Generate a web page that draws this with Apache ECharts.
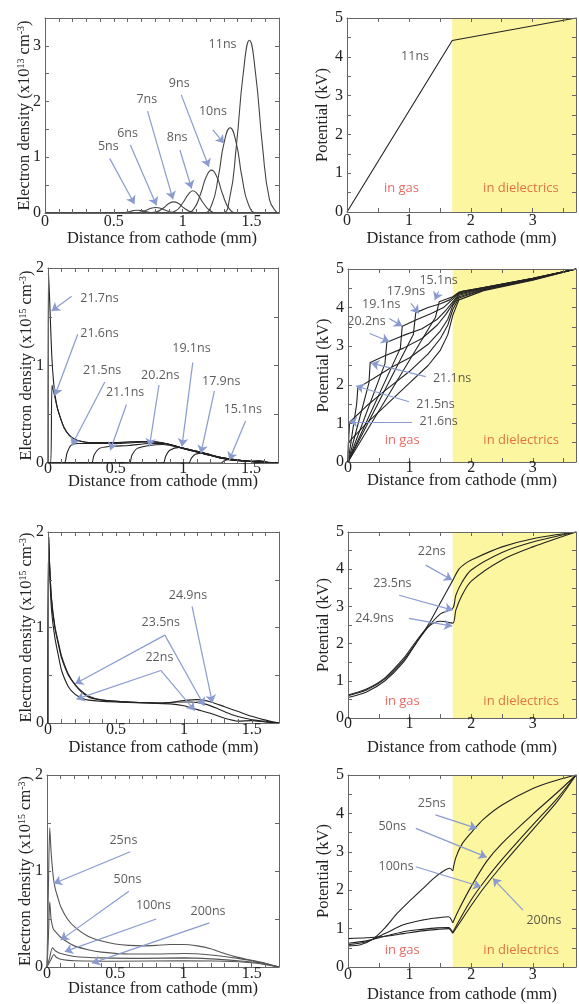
<!DOCTYPE html>
<html>
<head>
<meta charset="utf-8">
<script src="https://cdn.jsdelivr.net/npm/echarts@6/dist/echarts.min.js"></script>
<style>
html, body { margin: 0; padding: 0; background: #fff; }
#chart { width: 579px; height: 1004px; }
</style>
</head>
<body>
<div id="chart"></div>
<script>
// ---- row 1, left: electron density 5..11 ns (x1e13 cm^-3)
const dens5ns = [[0,0],[0.5,0],[0.56,0.005],[0.61,0.022],[0.64,0.042],[0.67,0.05],[0.7,0.042],[0.74,0.02],[0.79,0.005],[0.85,0],[1.7,0]];
const dens6ns = [[0,0],[0.6,0],[0.68,0.01],[0.73,0.045],[0.77,0.085],[0.805,0.1],[0.84,0.085],[0.88,0.045],[0.93,0.01],[1.0,0],[1.7,0]];
const dens7ns = [[0,0],[0.75,0],[0.81,0.02],[0.86,0.09],[0.9,0.17],[0.935,0.2],[0.97,0.17],[1.01,0.09],[1.06,0.02],[1.12,0],[1.7,0]];
const dens8ns = [[0,0],[0.88,0],[0.95,0.04],[1.0,0.18],[1.04,0.33],[1.075,0.4],[1.11,0.33],[1.15,0.18],[1.2,0.04],[1.26,0],[1.7,0]];
const dens9ns = [[0,0],[1.02,0],[1.08,0.07],[1.13,0.34],[1.17,0.64],[1.21,0.77],[1.25,0.64],[1.29,0.34],[1.34,0.07],[1.4,0],[1.7,0]];
const dens10ns = [[0,0],[1.15,0],[1.21,0.14],[1.26,0.66],[1.3,1.25],[1.345,1.53],[1.39,1.25],[1.43,0.66],[1.48,0.14],[1.54,0],[1.7,0]];
const dens11ns = [[0,0],[1.28,0],[1.34,0.25],[1.39,1.2],[1.44,2.5],[1.485,3.1],[1.53,2.5],[1.58,1.2],[1.63,0.25],[1.68,0.02],[1.7,0]];
const notesA = [[1.29,3.02,'11ns'],[1.22,1.82,'10ns'],[0.975,2.33,'9ns'],[0.96,1.35,'8ns'],[0.74,2.03,'7ns'],[0.6,1.43,'6ns'],[0.46,1.19,'5ns']];
const arrowsA = [[1.22,1.49,1.30,1.25],[0.99,2.12,1.19,0.83],[0.98,1.13,1.065,0.44],[0.745,1.83,0.93,0.245],[0.62,1.22,0.81,0.14],[0.47,0.98,0.65,0.16]];

// ---- row 1, right: potential at 11 ns (kV)
const pot11ns = [[0,0],[1.7,4.42],[3.7,5]];
const notesB = [[1.1,4.0,'11ns']];

// ---- row 2, left: electron density 15.1..21.7 ns (x1e15 cm^-3)
const dens15_1 = [[0,0],[1.28,0],[1.3,0.02],[1.33,0.035],[1.4,0.03],[1.5,0.02],[1.56,0.025],[1.62,0.01],[1.7,0]];
const dens17_9 = [[0,0],[1.04,0],[1.06,0.05],[1.09,0.09],[1.15,0.1],[1.25,0.06],[1.35,0.035],[1.45,0.02],[1.55,0.01],[1.7,0]];
const dens19_1 = [[0,0],[0.85,0],[0.87,0.07],[0.9,0.13],[0.97,0.16],[1.05,0.13],[1.15,0.095],[1.25,0.06],[1.35,0.035],[1.5,0.015],[1.7,0]];
const dens20_2 = [[0,0],[0.6,0],[0.62,0.08],[0.66,0.15],[0.75,0.18],[0.85,0.19],[0.95,0.165],[1.05,0.13],[1.15,0.095],[1.25,0.06],[1.35,0.035],[1.5,0.015],[1.7,0]];
const dens21_1 = [[0,0],[0.32,0],[0.34,0.08],[0.38,0.15],[0.45,0.17],[0.6,0.18],[0.75,0.2],[0.85,0.2],[0.95,0.17],[1.05,0.13],[1.15,0.095],[1.25,0.06],[1.35,0.035],[1.5,0.015],[1.7,0]];
const dens21_5 = [[0,0],[0.12,0],[0.14,0.1],[0.17,0.18],[0.22,0.2],[0.35,0.2],[0.5,0.2],[0.65,0.21],[0.8,0.215],[0.9,0.19],[1.0,0.15],[1.1,0.12],[1.2,0.085],[1.3,0.05],[1.4,0.03],[1.5,0.015],[1.6,0.005],[1.7,0]];
const dens21_6 = [[0,0],[0.02,0],[0.03,0.8],[0.05,0.68],[0.07,0.56],[0.09,0.47],[0.12,0.36],[0.16,0.28],[0.2,0.24],[0.25,0.22],[0.3,0.21],[0.5,0.21],[0.7,0.22],[0.8,0.215],[0.9,0.19],[1.0,0.15],[1.1,0.12],[1.2,0.085],[1.3,0.05],[1.4,0.03],[1.5,0.015],[1.6,0.005],[1.7,0]];
const dens21_7 = [[0,0],[0.003,1.95],[0.01,1.75],[0.018,1.45],[0.028,1.1],[0.04,0.85],[0.055,0.67],[0.07,0.56],[0.09,0.47],[0.12,0.36],[0.16,0.28],[0.2,0.24],[0.25,0.22],[0.3,0.21],[0.5,0.21],[0.7,0.22],[0.8,0.215],[0.9,0.19],[1.0,0.15],[1.1,0.12],[1.2,0.085],[1.3,0.05],[1.4,0.03],[1.5,0.015],[1.6,0.005],[1.7,0]];
const notesC = [[0.38,1.69,'21.7ns'],[0.38,1.33,'21.6ns'],[0.4,0.95,'21.5ns'],[0.57,0.72,'21.1ns'],[0.83,0.9,'20.2ns'],[1.06,1.17,'19.1ns'],[1.28,0.84,'17.9ns'],[1.44,0.55,'15.1ns']];
const arrowsC = [[0.175,1.71,0.027,1.56],[0.22,1.32,0.05,0.69],[0.42,0.83,0.175,0.18],[0.58,0.6,0.46,0.13],[0.82,0.8,0.75,0.17],[1.07,1.03,0.99,0.17],[1.23,0.74,1.13,0.1],[1.46,0.43,1.34,0.03]];

// ---- row 2, right: potential 15.1..21.7 ns
const pot15_1 = [[0,0],[1.42,3.75],[1.48,4.15],[1.6,4.22],[1.7,4.28],[1.8,4.4],[2.2,4.52],[3.0,4.76],[3.7,5]];
const pot17_9 = [[0,0],[1.06,3.3],[1.1,3.87],[1.3,4.0],[1.5,4.1],[1.65,4.2],[1.75,4.33],[1.85,4.42],[2.2,4.52],[3.0,4.76],[3.7,5]];
const pot19_1 = [[0,0],[0.85,2.95],[0.88,3.52],[1.1,3.68],[1.35,3.85],[1.55,4.0],[1.7,4.22],[1.8,4.38],[2.2,4.51],[3.0,4.75],[3.7,5]];
const pot20_2 = [[0,0],[0.6,2.55],[0.63,3.1],[0.9,3.28],[1.2,3.45],[1.45,3.7],[1.6,3.95],[1.7,4.15],[1.8,4.35],[2.2,4.5],[3.0,4.75],[3.7,5]];
const pot21_1 = [[0,0],[0.34,2.05],[0.36,2.58],[0.6,2.75],[0.9,2.95],[1.2,3.2],[1.45,3.55],[1.6,3.85],[1.7,4.1],[1.8,4.32],[2.2,4.49],[3.0,4.74],[3.7,5]];
const pot21_5 = [[0,0],[0.14,1.5],[0.16,1.92],[0.4,2.15],[0.7,2.45],[1.0,2.7],[1.3,3.05],[1.5,3.4],[1.62,3.7],[1.7,4.05],[1.8,4.28],[2.2,4.47],[3.0,4.73],[3.7,5]];
const pot21_6 = [[0,0],[0.012,0.6],[0.025,1.03],[0.3,1.45],[0.6,1.85],[1.0,2.35],[1.3,2.8],[1.5,3.2],[1.62,3.55],[1.7,3.95],[1.8,4.25],[2.2,4.46],[3.0,4.72],[3.7,5]];
const pot21_7 = [[0,0],[0.005,0.5],[0.3,1.0],[0.6,1.45],[1.0,2.05],[1.3,2.5],[1.5,2.9],[1.62,3.3],[1.7,3.8],[1.8,4.2],[2.2,4.44],[3.0,4.71],[3.7,5]];
const notesD = [[1.47,4.7,'15.1ns'],[0.94,4.42,'17.9ns'],[0.54,4.07,'19.1ns'],[0.3,3.64,'20.2ns'],[1.69,2.17,'21.1ns'],[1.42,1.5,'21.5ns'],[1.47,1.04,'21.6ns']];
const arrowsD = [[1.47,4.42,1.41,4.2],[1.02,4.11,1.15,3.85],[0.67,3.72,0.88,3.52],[0.35,3.33,0.67,3.12],[1.26,2.21,0.375,2.56],[0.99,1.56,0.13,1.97],[1.04,1.04,0.02,1.04]];

// ---- row 3, left: electron density 22..24.9 ns
const dens22 = [[0,0],[0.004,1.95],[0.012,1.6],[0.025,1.2],[0.05,0.9],[0.08,0.68],[0.1,0.55],[0.15,0.38],[0.2,0.3],[0.25,0.26],[0.3,0.24],[0.5,0.22],[0.7,0.21],[0.9,0.2],[1.0,0.18],[1.1,0.14],[1.2,0.1],[1.3,0.05],[1.4,0.02],[1.5,0.025],[1.6,0.01],[1.7,0]];
const dens23_5 = [[0,0],[0.004,1.95],[0.012,1.65],[0.025,1.3],[0.05,1.0],[0.08,0.8],[0.1,0.68],[0.15,0.5],[0.2,0.4],[0.25,0.32],[0.3,0.27],[0.4,0.24],[0.6,0.22],[0.85,0.21],[0.95,0.22],[1.05,0.22],[1.15,0.2],[1.25,0.15],[1.35,0.09],[1.45,0.05],[1.55,0.025],[1.65,0.008],[1.7,0]];
const dens24_9 = [[0,0],[0.004,1.95],[0.012,1.66],[0.025,1.32],[0.05,1.02],[0.08,0.82],[0.1,0.7],[0.15,0.51],[0.2,0.4],[0.25,0.33],[0.3,0.28],[0.4,0.24],[0.6,0.22],[0.85,0.21],[1.0,0.235],[1.1,0.245],[1.2,0.22],[1.3,0.17],[1.4,0.12],[1.5,0.07],[1.6,0.03],[1.7,0]];
const notesE = [[1.03,1.34,'24.9ns'],[0.83,1.05,'23.5ns'],[0.82,0.69,'22ns']];
const arrowsE = [[1.06,1.22,1.21,0.21],[0.86,0.92,0.2,0.41],[0.86,0.92,1.15,0.18],[0.83,0.55,0.21,0.25],[0.83,0.55,1.08,0.13]];

// ---- row 3, right: potential 22..24.9 ns
const pot22 = [[0,0.55],[0.3,0.7],[0.6,1.0],[0.9,1.5],[1.1,2.0],[1.3,2.5],[1.5,3.1],[1.7,3.7],[1.8,4.0],[1.9,4.15],[2.0,4.25],[2.5,4.6],[3.0,4.82],[3.7,5]];
const pot23_5 = [[0,0.6],[0.3,0.75],[0.6,1.05],[0.9,1.55],[1.1,2.0],[1.3,2.45],[1.5,2.8],[1.7,2.95],[1.75,3.3],[1.85,3.65],[2.0,3.98],[2.5,4.45],[3.0,4.73],[3.7,5]];
const pot24_9 = [[0,0.62],[0.3,0.78],[0.6,1.08],[0.9,1.6],[1.1,2.05],[1.3,2.45],[1.5,2.6],[1.7,2.55],[1.75,2.9],[1.85,3.3],[2.0,3.68],[2.5,4.25],[3.0,4.6],[3.7,5]];
const notesF = [[1.36,4.47,'22ns'],[0.72,3.62,'23.5ns'],[0.43,2.68,'24.9ns']];
const arrowsF = [[1.26,4.11,1.69,3.71],[0.83,3.3,1.7,2.9],[0.99,2.68,1.69,2.47]];

// ---- row 4, left: electron density 25..200 ns
const dens25 = [[0,0],[0.01,0.8],[0.02,1.45],[0.03,1.2],[0.045,0.95],[0.06,0.82],[0.08,0.72],[0.1,0.63],[0.15,0.5],[0.2,0.42],[0.3,0.32],[0.4,0.27],[0.5,0.24],[0.6,0.225],[0.7,0.22],[0.8,0.225],[0.9,0.235],[1.0,0.235],[1.1,0.22],[1.2,0.19],[1.3,0.14],[1.4,0.1],[1.5,0.07],[1.6,0.04],[1.7,0]];
const dens50 = [[0,0],[0.01,0.3],[0.02,0.68],[0.03,0.5],[0.045,0.4],[0.06,0.37],[0.1,0.31],[0.15,0.26],[0.2,0.22],[0.3,0.18],[0.4,0.155],[0.6,0.135],[0.8,0.135],[1.0,0.14],[1.2,0.125],[1.4,0.09],[1.5,0.065],[1.6,0.035],[1.7,0]];
const dens100 = [[0,0],[0.02,0.1],[0.04,0.2],[0.06,0.17],[0.1,0.14],[0.2,0.11],[0.4,0.095],[0.7,0.09],[1.0,0.095],[1.2,0.085],[1.4,0.065],[1.55,0.045],[1.7,0]];
const dens200 = [[0,0],[0.03,0.08],[0.05,0.13],[0.07,0.1],[0.12,0.075],[0.2,0.065],[0.5,0.06],[1.0,0.065],[1.3,0.06],[1.5,0.045],[1.6,0.025],[1.7,0]];
const notesG = [[0.56,1.32,'25ns'],[0.59,0.91,'50ns'],[0.78,0.64,'100ns'],[1.18,0.58,'200ns']];
const arrowsG = [[0.61,1.2,0.05,0.87],[0.6,0.79,0.1,0.28],[0.8,0.5,0.13,0.16],[1.19,0.46,0.33,0.04]];

// ---- row 4, right: potential 25..200 ns (gas part / dielectric part)
const pot25gas = [[0,0.55],[0.2,0.58],[0.4,0.72],[0.6,1.02],[0.8,1.4],[1.0,1.72],[1.2,2.02],[1.4,2.32],[1.55,2.5],[1.65,2.57],[1.7,2.5]];
const pot25diel = [[1.7,2.5],[1.75,2.85],[1.85,3.2],[2.0,3.5],[2.2,3.85],[2.5,4.22],[3.0,4.65],[3.4,4.87],[3.7,5]];
const pot50gas = [[0,0.58],[0.3,0.66],[0.6,0.87],[0.9,1.1],[1.2,1.22],[1.45,1.28],[1.63,1.31],[1.7,1.15]];
const pot50diel = [[1.7,1.15],[1.8,1.5],[2.0,2.1],[2.25,2.75],[2.5,3.22],[3.0,3.98],[3.4,4.55],[3.7,5]];
const pot100gas = [[0,0.62],[0.3,0.68],[0.6,0.8],[0.9,0.92],[1.2,0.98],[1.45,1.02],[1.63,1.03],[1.7,0.9]];
const pot100diel = [[1.7,0.9],[1.8,1.2],[2.0,1.75],[2.2,2.2],[2.5,2.8],[3.0,3.7],[3.4,4.4],[3.7,5]];
const pot200gas = [[0,0.74],[0.3,0.76],[0.6,0.8],[0.9,0.87],[1.2,0.94],[1.45,0.98],[1.63,1.0],[1.7,0.88]];
const pot200diel = [[1.7,0.88],[1.8,1.12],[2.0,1.6],[2.2,2.05],[2.5,2.65],[3.0,3.58],[3.4,4.32],[3.7,5]];
const notesH = [[1.36,4.27,'25ns'],[0.72,3.66,'50ns'],[0.78,2.63,'100ns'],[3.18,1.2,'200ns']];
const arrowsH = [[1.42,3.96,2.09,3.61],[1.1,3.61,2.25,2.86],[1.1,2.61,2.16,2.09],[2.84,1.48,2.35,2.31]];

const regionNames = ['in gas', 'in dielectrics'];

const SERIF = 'Liberation Serif';
const SANS = 'Open Sans';
const INK = '#222';
const ARROW = '#8a9bd0';

const panels = [
  { grid: {left: 45, top: 18, width: 234, height: 195}, pot: false, ymax: 3.5, exp: '13',
    curves: [dens5ns, dens6ns, dens7ns, dens8ns, dens9ns, dens10ns, dens11ns], color: '#444', smooth: 0.5,
    notes: notesA, arrows: arrowsA, gapX: 17, gapY: 12, marginX: 1 },
  { grid: {left: 347, top: 18, width: 231, height: 194}, pot: true, ymax: 5,
    curves: [pot11ns], color: INK, smooth: false, notes: notesB, arrows: [], regionY: 0.6, gapX: 18, gapY: 16, marginX: 1 },
  { grid: {left: 48, top: 268, width: 230, height: 195}, pot: false, ymax: 2, exp: '15',
    curves: [dens15_1, dens17_9, dens19_1, dens20_2, dens21_1, dens21_5, dens21_6, dens21_7], color: INK, smooth: 0.25,
    notes: notesC, arrows: arrowsC, gapX: 10, gapY: 13, marginX: -2 },
  { grid: {left: 348, top: 269, width: 230, height: 193}, pot: true, ymax: 5,
    curves: [pot15_1, pot17_9, pot19_1, pot20_2, pot21_1, pot21_5, pot21_6, pot21_7], color: INK, smooth: false,
    notes: notesD, arrows: arrowsD, regionY: 0.56, gapX: 10, gapY: 16, marginX: -2 },
  { grid: {left: 48, top: 532, width: 231, height: 191}, pot: false, ymax: 2, exp: '15',
    curves: [dens22, dens23_5, dens24_9], color: INK, smooth: 0.25,
    notes: notesE, arrows: arrowsE, gapX: 16, gapY: 13, marginX: -1 },
  { grid: {left: 348, top: 532, width: 230, height: 186}, pot: true, ymax: 5,
    curves: [pot22, pot23_5, pot24_9], color: INK, smooth: 0.3,
    notes: notesF, arrows: arrowsF, regionY: 0.45, gapX: 21, gapY: 16, marginX: -2 },
  { grid: {left: 47, top: 775, width: 232, height: 192}, pot: false, ymax: 2, exp: '15',
    curves: [dens25, dens50, dens100, dens200], color: '#555', smooth: 0.25,
    notes: notesG, arrows: arrowsG, gapX: 13, gapY: 13, marginX: -1 },
  { grid: {left: 348, top: 775, width: 230, height: 192}, pot: true, ymax: 5,
    curves: [pot25gas, pot25diel, pot50gas, pot50diel, pot100gas, pot100diel, pot200gas, pot200diel], color: INK, smooth: 0.3,
    notes: notesH, arrows: arrowsH, regionY: 0.44, gapX: 19, gapY: 16, marginX: 0 }
];

function stepLabel(step, max) {
  return function (v) {
    const r = Math.round(v / step) * step;
    if (Math.abs(v - r) > 1e-6 || r > max + 1e-6) return '';
    return String(+r.toFixed(2));
  };
}

const grids = [], xAxes = [], yAxes = [], series = [];
const frame = {show: true, onZero: false, lineStyle: {color: '#666', width: 1}};
const ticks = {show: true, inside: true, length: 4, lineStyle: {color: '#666'}};

panels.forEach((p, i) => {
  const xmax = p.pot ? 3.7 : 1.7;
  grids.push(p.grid);
  const xBase = {
    gridIndex: i, type: 'value', min: 0, max: xmax, interval: p.pot ? 0.5 : 0.1,
    axisLine: frame, axisTick: ticks, splitLine: {show: false}, z: 5
  };
  xAxes.push(Object.assign({}, xBase, {
    position: 'bottom',
    axisLabel: {margin: p.marginX, fontFamily: SERIF, fontSize: 16, color: INK,
      formatter: stepLabel(p.pot ? 1 : 0.5, p.pot ? 3 : 1.5)},
    name: 'Distance from cathode (mm)', nameLocation: 'middle', nameGap: p.gapX, nameMoveOverlap: false,
    nameTextStyle: {fontFamily: SERIF, fontSize: 16.5, color: INK}
  }));
  xAxes.push(Object.assign({}, xBase, {position: 'top', axisLabel: {show: false}}));
  const yBase = {
    gridIndex: i, type: 'value', min: 0, max: p.ymax, interval: 0.5,
    axisLine: frame, axisTick: ticks, splitLine: {show: false}, z: 5
  };
  yAxes.push(Object.assign({}, yBase, {
    position: 'left',
    axisLabel: {margin: 4, fontFamily: SERIF, fontSize: 16, color: INK, formatter: stepLabel(1, p.ymax)},
    name: p.pot ? 'Potential (kV)' : 'Electron density (x10{s|' + p.exp + '} cm{s|-3})',
    nameLocation: 'middle', nameGap: p.gapY, nameMoveOverlap: false,
    nameTextStyle: {fontFamily: SERIF, fontSize: 16.5, color: INK,
      rich: {s: {fontFamily: SERIF, fontSize: 10, lineHeight: 10, verticalAlign: 'top', color: INK}}}
  }));
  yAxes.push(Object.assign({}, yBase, {position: 'right', axisLabel: {show: false}}));

  const ax = {xAxisIndex: 2 * i, yAxisIndex: 2 * i};
  if (p.pot) {
    series.push(Object.assign({
      type: 'line', data: [], z: 1, silent: true,
      markArea: {silent: true, itemStyle: {color: '#fcf6a0'},
        data: [[{xAxis: 1.7}, {xAxis: 3.7}]]}
    }, ax));
  }
  p.curves.forEach(c => {
    series.push(Object.assign({
      type: 'line', data: c, symbol: 'none', smooth: p.smooth,
      lineStyle: {color: p.color, width: 1.1}, z: 2, silent: true, animation: false
    }, ax));
  });
  const labels = p.notes.map(n => ({value: [n[0], n[1]], name: n[2], label: {color: '#333'}}));
  if (p.pot) {
    labels.push({value: [0.88, p.regionY], name: regionNames[0], label: {color: '#e5433b', fontSize: 13}});
    labels.push({value: [2.81, p.regionY], name: regionNames[1], label: {color: '#d9502c', fontSize: 13}});
  }
  series.push(Object.assign({
    type: 'scatter', data: labels, symbolSize: 1, itemStyle: {color: 'rgba(0,0,0,0)'}, z: 3, silent: true,
    label: {show: true, position: 'inside', formatter: '{b}', fontFamily: SANS, fontSize: 12.5},
    markLine: {
      silent: true, symbol: ['none', 'arrow'], symbolSize: 8, animation: false,
      lineStyle: {color: ARROW, width: 1.2, type: 'solid'}, label: {show: false},
      data: p.arrows.map(a => [{coord: [a[0], a[1]]}, {coord: [a[2], a[3]]}])
    }
  }, ax));
});

const chart = echarts.init(document.getElementById('chart'));
chart.setOption({
  animation: false,
  backgroundColor: '#fff',
  grid: grids,
  xAxis: xAxes,
  yAxis: yAxes,
  series: series
});
</script>
</body>
</html>
